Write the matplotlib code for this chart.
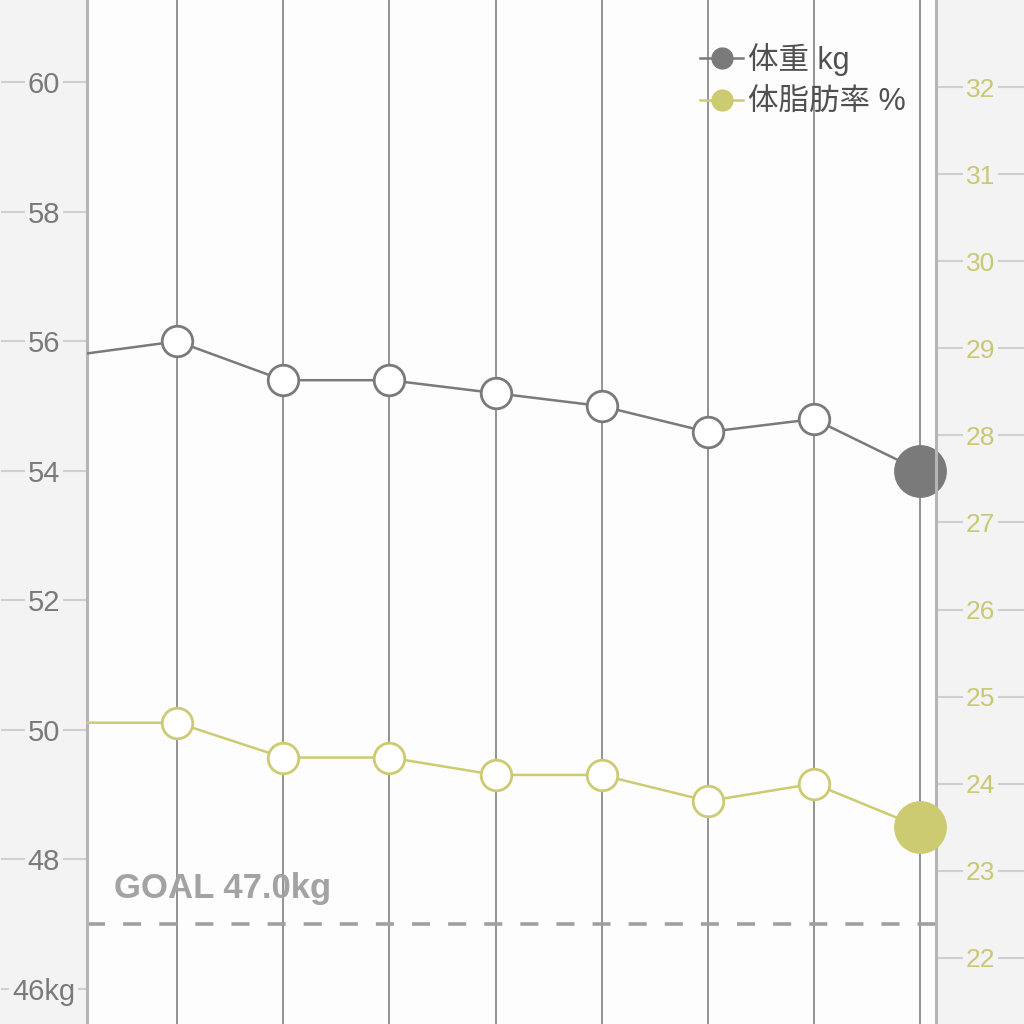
import matplotlib
matplotlib.use("Agg")
import matplotlib.pyplot as plt
from matplotlib.lines import Line2D

plt.rcParams['font.family'] = ['Liberation Sans', 'Noto Sans CJK JP', 'DejaVu Sans']

# ---- data ----
x_idx = [-1, 0, 1, 2, 3, 4, 5, 6, 7]
weight = [55.78, 56.0, 55.4, 55.4, 55.2, 55.0, 54.6, 54.8, 54.0]
fat = [24.7, 24.7, 24.3, 24.3, 24.1, 24.1, 23.8, 24.0, 23.5]
goal = 47.0
w_ticks = [46, 48, 50, 52, 54, 56, 58, 60]
w_labels = ['46kg', '48', '50', '52', '54', '56', '58', '60']
f_ticks = [22, 23, 24, 25, 26, 27, 28, 29, 30, 31, 32]
f_labels = [str(v) for v in f_ticks]
legend_labels = ['体重 kg', '体脂肪率 %']
goal_label = 'GOAL 47.0kg'

W_COL = '#7a7a7a'
F_COL = '#cdcb72'
PANEL = '#f3f3f3'
TICK_COL = '#cfcfcf'

fig = plt.figure(figsize=(10.24, 10.24), dpi=100, facecolor=PANEL)
L, R = 87 / 1024, 936 / 1024
ax = fig.add_axes([L, 0, R - L, 1])
ax.set_facecolor('#fdfdfd')
ax2 = ax.twinx()

ax.set_xlim(-0.85, 7.15)
ax.set_ylim(45.46, 61.27)
ax2.set_ylim(21.24, 33.0)

# vertical grid lines
for xi in range(0, 8):
    ax.axvline(xi, color='#8a8a8a', lw=1.3, zorder=1)

for a in (ax, ax2):
    for s in ['top', 'bottom']:
        a.spines[s].set_visible(False)
ax.spines['left'].set_color('#b5b5b5')
ax.spines['left'].set_linewidth(2.2)
ax.spines['right'].set_visible(False)
ax2.spines['left'].set_visible(False)
ax2.spines['right'].set_color('#b5b5b5')
ax2.spines['right'].set_linewidth(2.2)
ax.set_xticks([])

# left ticks (long lines through the grey panel, labels centred)
ax.set_yticks(w_ticks)
ax.set_yticklabels(w_labels)
ax.tick_params(axis='y', direction='out', length=62, width=1.5, color=TICK_COL,
               pad=-31, labelsize=21, labelcolor='#7a7a7a')
for lab in ax.get_yticklabels():
    lab.set_horizontalalignment('center')
    lab.set_bbox(dict(facecolor=PANEL, edgecolor='none', pad=2))

ax2.set_yticks(f_ticks)
ax2.set_yticklabels(f_labels)
ax2.tick_params(axis='y', direction='out', length=63, width=1.5, color=TICK_COL,
                pad=-31, labelsize=19, labelcolor='#c9c873')
for lab in ax2.get_yticklabels():
    lab.set_horizontalalignment('center')
    lab.set_bbox(dict(facecolor=PANEL, edgecolor='none', pad=2))

# goal line
ax.axhline(goal, color='#a0a0a0', lw=2.6, ls=(0, (5, 5)), zorder=2)
ax.text(-0.6, goal + 0.55, goal_label, fontsize=25, fontweight='bold',
        color='#a3a3a3', ha='left', va='center', zorder=3)

# weight series
ax.plot(x_idx, weight, color=W_COL, lw=1.8, zorder=4, clip_on=True)
ax.plot(x_idx[1:-1], weight[1:-1], 'o', ms=22, mfc='white', mec=W_COL, mew=2.0, zorder=5)
ax.plot(x_idx[-1:], weight[-1:], 'o', ms=37, mfc=W_COL, mec=W_COL, zorder=5, clip_on=False)

# fat series
ax2.plot(x_idx, fat, color=F_COL, lw=1.8, zorder=4)
ax2.plot(x_idx[1:-1], fat[1:-1], 'o', ms=22, mfc='white', mec=F_COL, mew=2.0, zorder=5)
ax2.plot(x_idx[-1:], fat[-1:], 'o', ms=37, mfc=F_COL, mec=F_COL, zorder=5, clip_on=False)

# legend
handles = [Line2D([0], [0], color=W_COL, lw=1.8, marker='o', ms=15, mfc=W_COL, mec=W_COL),
           Line2D([0], [0], color=F_COL, lw=1.8, marker='o', ms=15, mfc=F_COL, mec=F_COL)]
leg = ax2.legend(handles, legend_labels, loc='upper left', bbox_to_anchor=(0.690, 0.985),
                 frameon=False, handlelength=1.4, handletextpad=0.15, labelspacing=0.4,
                 prop={'family': ['Liberation Sans', 'Noto Sans CJK JP', 'DejaVu Sans'],
                       'size': 22})
for t in leg.get_texts():
    t.set_color('#505050')

fig.savefig('out.png', dpi=100, facecolor=PANEL)
